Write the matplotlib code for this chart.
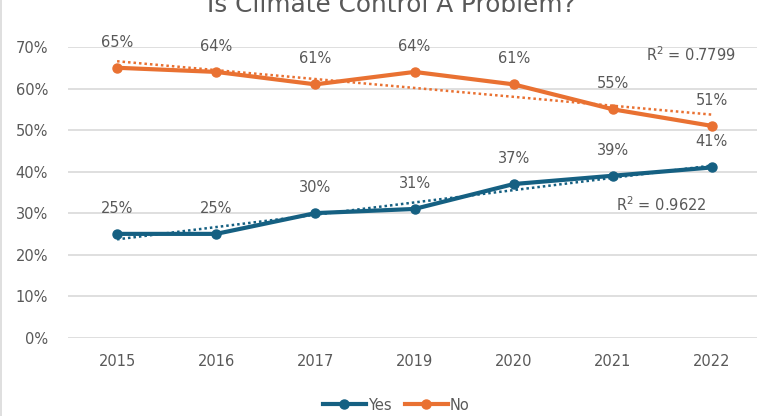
import matplotlib
matplotlib.use("Agg")
import matplotlib.pyplot as plt
import numpy as np
from matplotlib.lines import Line2D

years = ["2015", "2016", "2017", "2019", "2020", "2021", "2022"]
yes_vals = [25, 25, 30, 31, 37, 39, 41]
no_vals = [65, 64, 61, 64, 61, 55, 51]
yticks = [0, 10, 20, 30, 40, 50, 60, 70]
r2_yes = "R$^2$ = 0.9622"
r2_no = "R$^2$ = 0.7799"
title = "Is Climate Control A Problem?"

YES_C = "#156082"
NO_C = "#E97132"
TXT = "#595959"
GRID = "#D9D9D9"

plt.rcParams['font.family'] = ['DejaVu Sans']

fig = plt.figure(figsize=(7.57, 4.16), dpi=100)
ax = fig.add_axes([67.5/757, 1-337.7/416, (761.5-67.5)/757, (337.7-47)/416])

x = np.arange(len(years))
ax.plot(x, no_vals, color=NO_C, lw=3, marker='o', ms=6.5, zorder=3, solid_capstyle='round')
ax.plot(x, yes_vals, color=YES_C, lw=3, marker='o', ms=6.5, zorder=3, solid_capstyle='round')

for vals, c in ((yes_vals, YES_C), (no_vals, NO_C)):
    p = np.polyfit(x + 1, vals, 1)
    ax.plot(x, np.polyval(p, x + 1), color=c, lw=1.8, ls=(0, (1, 1.2)), zorder=2)

for vals in (yes_vals, no_vals):
    for xi, v in zip(x, vals):
        ax.annotate(f"{v}%", (xi, v), xytext=(0, 18.5), textcoords='offset points',
                    ha='center', va='center', fontsize=10.5, color=TXT)

ax.text(6.24, 68.2, r2_no, ha='right', va='center', fontsize=10.5, color=TXT)
ax.text(5.95, 32.0, r2_yes, ha='right', va='center', fontsize=10.5, color=TXT)

ax.set_xlim(-0.5, 6.5)
ax.set_ylim(0, 70)
ax.set_yticks(yticks)
ax.set_yticklabels([f"{t}%" for t in yticks])
ax.set_xticks(x)
ax.set_xticklabels(years)
ax.tick_params(axis='both', length=0, colors=TXT, labelsize=10.5)
ax.tick_params(axis='y', pad=14)
ax.tick_params(axis='x', pad=12)
ax.grid(axis='y', color=GRID, lw=1.2)
ax.set_axisbelow(True)
for s in ax.spines.values():
    s.set_visible(False)

fig.text(391/757, 1-12.5/416, title, ha='center', va='baseline', fontsize=17.8, color=TXT)

handles = [Line2D([0], [0], color=YES_C, lw=3, marker='o', ms=6.5),
           Line2D([0], [0], color=NO_C, lw=3, marker='o', ms=6.5)]
fig.legend(handles, ["Yes", "No"], loc='center', bbox_to_anchor=(396/757, 1-405/416),
           ncol=2, frameon=False, fontsize=10.5, labelcolor=TXT, handlelength=3,
           handletextpad=0.1, columnspacing=0.9)

fig.add_artist(Line2D([0.8/757, 0.8/757], [0, 1], color=GRID, lw=1.2, transform=fig.transFigure))

fig.savefig("out.png", dpi=100)
